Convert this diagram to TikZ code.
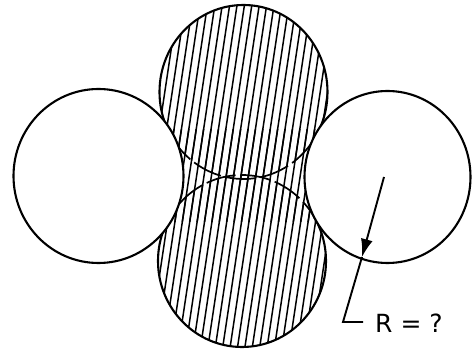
\documentclass[tikz,border=0pt]{standalone}
\usepackage{fontspec}
\newfontfamily\lblfont{DejaVu Sans}
\usetikzlibrary{arrows.meta,calc}
\tikzset{
  outline/.style={line width=2.1pt, black},
  hidden/.style={line width=1.7pt, black, dash pattern=on 30pt off 5pt},
  hatchline/.style={line width=1.5pt, black},
  sidecirc/.style={line width=2.1pt, black, fill=white},
  leader/.style={line width=1.9pt, black},
}
\begin{document}
\begin{tikzpicture}[x=1pt, y=-1pt]
\useasboundingbox (0,0) rectangle (472,352);
% centres
\coordinate (cL) at (98.5,176);
\coordinate (cR) at (387.5,177);
\coordinate (cT) at (243.5,92);
\coordinate (cB) at (242,261);
% hatching of the two middle discs and the waist between them
\foreach \shape in {1,2,3}{
  \begin{scope}
    \ifcase\shape\or
      \clip (cT) ellipse [x radius=84pt, y radius=87pt];
    \or
      \clip (cB) ellipse [x radius=84pt, y radius=86pt];
    \or
      \clip (98,130) rectangle (387,222);
    \fi
    \foreach \i in {0,...,55}{
      \draw[hatchline] ({95+7.4*\i},360) -- ({95+7.4*\i+0.15*370},-10);
    }
  \end{scope}
}
% outlines of the middle discs: visible part solid, hidden part dashed
\begin{scope}
  \clip (0,-5) rectangle (472,135);
  \draw[outline] (cT) ellipse [x radius=84pt, y radius=87pt];
\end{scope}
\begin{scope}
  \clip (0,135) rectangle (472,360);
  \draw[hidden] (cT) ellipse [x radius=84pt, y radius=87pt];
\end{scope}
\begin{scope}
  \clip (0,219) rectangle (472,360);
  \draw[outline] (cB) ellipse [x radius=84pt, y radius=86pt];
\end{scope}
\begin{scope}
  \clip (0,-5) rectangle (472,219);
  \draw[hidden] (cB) ellipse [x radius=84pt, y radius=86pt];
\end{scope}
% side discs
\draw[sidecirc] (cL) ellipse [x radius=85pt, y radius=87pt];
\draw[sidecirc] (cR) ellipse [x radius=83pt, y radius=86pt];
% radius arrow and label
\coordinate (ctr) at (384,177);
\coordinate (tip) at (362,257);
\coordinate (corner) at (343,322);
\node[anchor=base west, inner sep=0pt, font=\lblfont\fontsize{25}{30}\selectfont] (lbl) at (375,333) {R = ?};
\coordinate (lend) at ($(lbl.west)+(-12,0)$);
\draw[leader, -{Latex[length=18pt,width=12pt]}] (ctr) -- (tip);
\draw[leader] (tip) -- (corner) -- (corner -| lend);
\end{tikzpicture}
\end{document}
